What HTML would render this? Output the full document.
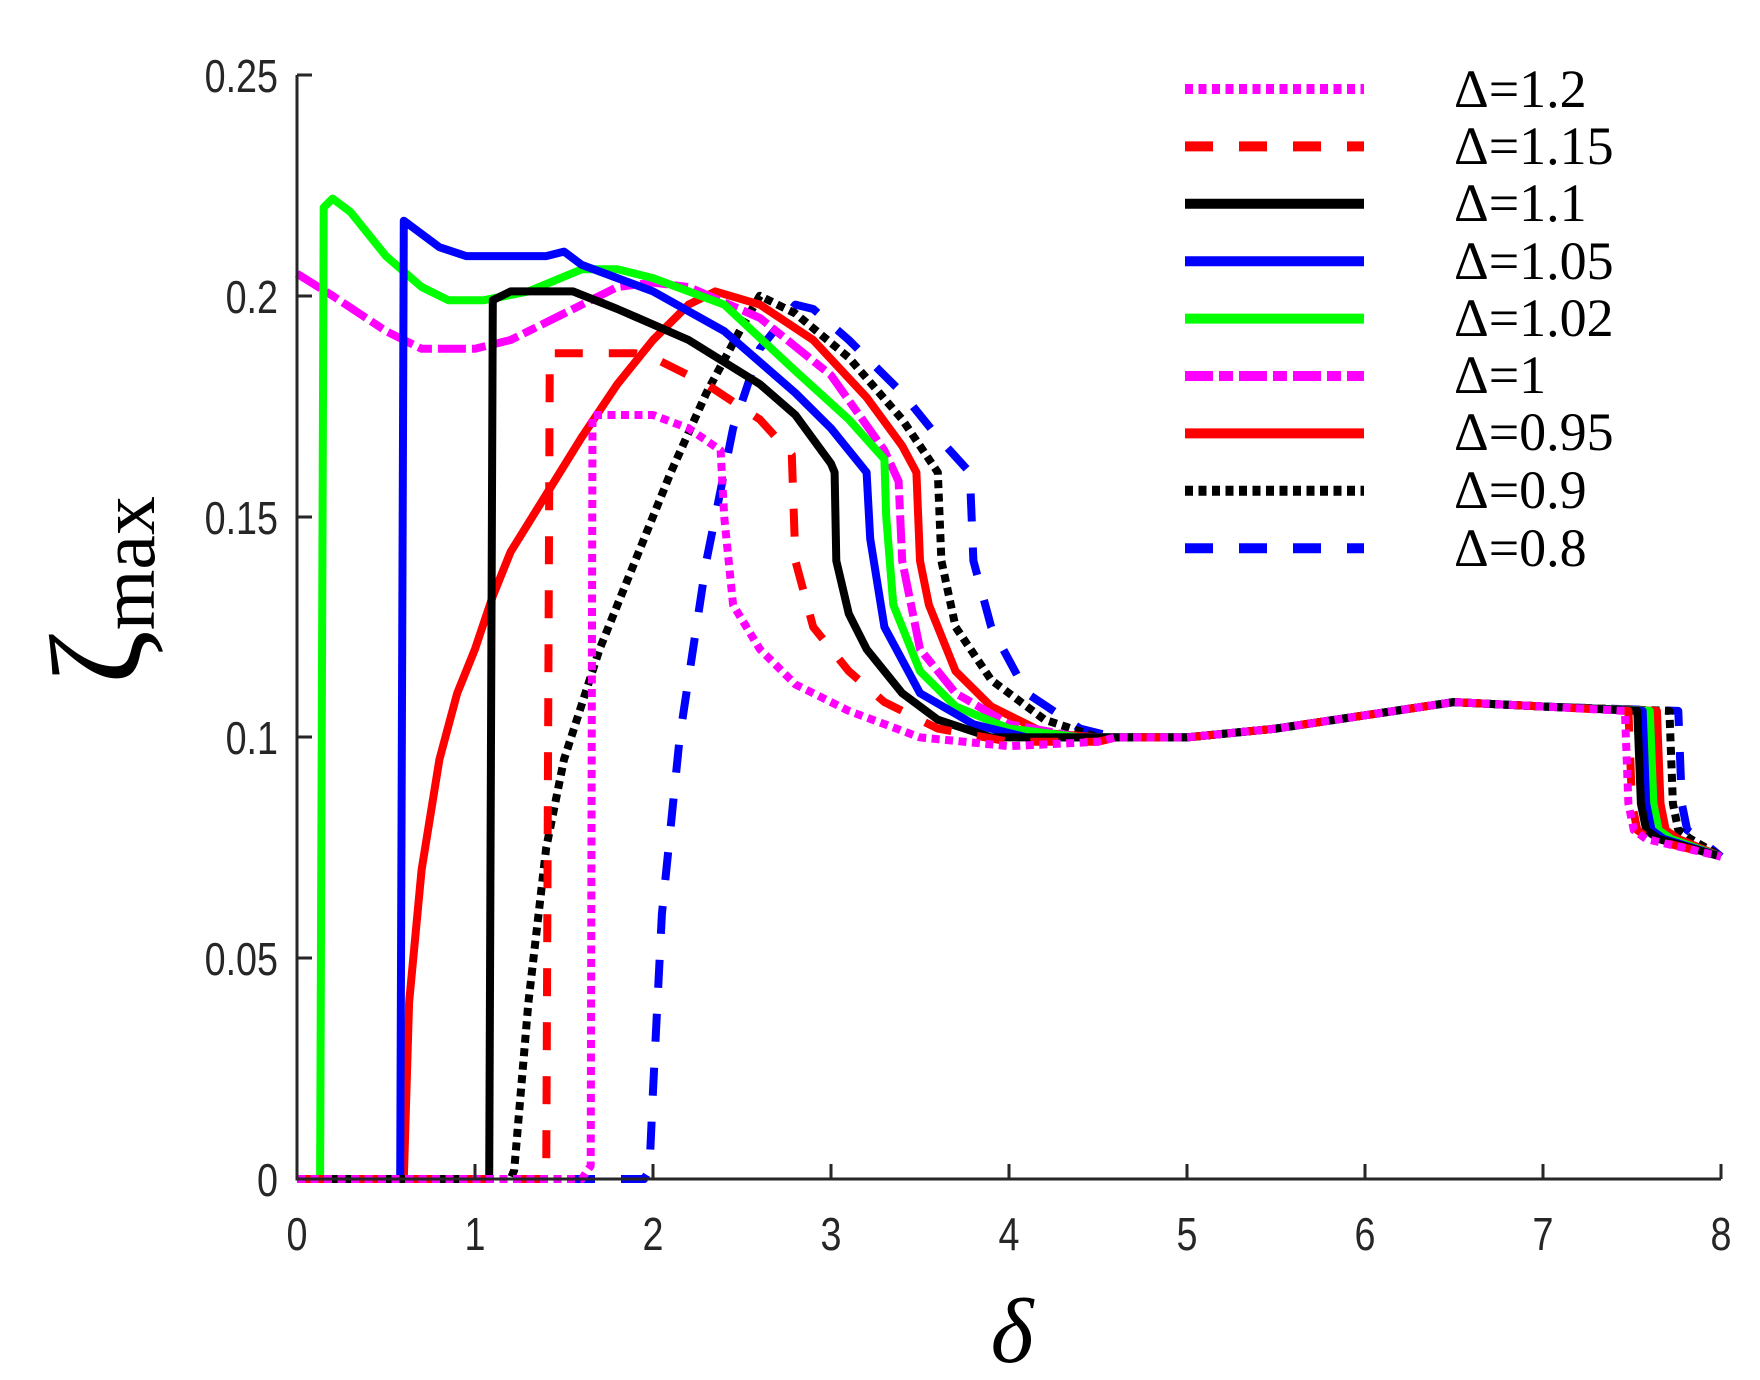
<!DOCTYPE html>
<html><head><meta charset="utf-8">
<style>
html,body{margin:0;padding:0;background:#fff;}
svg{display:block;}
.tk{font-family:"Liberation Sans",sans-serif;font-size:46px;fill:#262626;}
.lg{font-family:"Liberation Serif",serif;font-size:54px;fill:#000;}
</style></head>
<body>
<svg id="s" width="1760" height="1380" viewBox="0 0 1760 1380" xmlns="http://www.w3.org/2000/svg">
<g id="curves" fill="none" stroke-linejoin="round"></g>
<g stroke="#262626" stroke-width="3" fill="none">
<path d="M297,75 V1179 H1721"/>
<path d="M297,75 h15 M297,296 h15 M297,517 h15 M297,737 h15 M297,958 h15"/>
<path d="M475,1179 v-15 M653,1179 v-15 M831,1179 v-15 M1009,1179 v-15 M1187,1179 v-15 M1365,1179 v-15 M1543,1179 v-15 M1721,1179 v-15"/>
</g>
<g class="tk" text-anchor="end">
<text transform="translate(278,92) scale(0.82,1)">0.25</text>
<text transform="translate(278,313) scale(0.82,1)">0.2</text>
<text transform="translate(278,534) scale(0.82,1)">0.15</text>
<text transform="translate(278,754) scale(0.82,1)">0.1</text>
<text transform="translate(278,975) scale(0.82,1)">0.05</text>
<text transform="translate(278,1196) scale(0.82,1)">0</text>
</g>
<g class="tk" text-anchor="middle">
<text transform="translate(297,1250) scale(0.82,1)">0</text>
<text transform="translate(475,1250) scale(0.82,1)">1</text>
<text transform="translate(653,1250) scale(0.82,1)">2</text>
<text transform="translate(831,1250) scale(0.82,1)">3</text>
<text transform="translate(1009,1250) scale(0.82,1)">4</text>
<text transform="translate(1187,1250) scale(0.82,1)">5</text>
<text transform="translate(1365,1250) scale(0.82,1)">6</text>
<text transform="translate(1543,1250) scale(0.82,1)">7</text>
<text transform="translate(1721,1250) scale(0.82,1)">8</text>
</g>
<text x="1012" y="1362" text-anchor="middle" font-family="Liberation Serif,serif" font-style="italic" font-size="92">δ</text>
<g transform="translate(140,590) rotate(-90)">
<text x="0" y="0" text-anchor="middle" font-family="Liberation Serif,serif" font-size="78"><tspan font-size="130">ζ</tspan><tspan dy="14">max</tspan></text>
</g>
<g id="legend" fill="none"></g>
<g class="lg">
<text x="1454" y="107">Δ=1.2</text>
<text x="1454" y="164">Δ=1.15</text>
<text x="1454" y="221">Δ=1.1</text>
<text x="1454" y="279">Δ=1.05</text>
<text x="1454" y="336">Δ=1.02</text>
<text x="1454" y="393">Δ=1</text>
<text x="1454" y="450">Δ=0.95</text>
<text x="1454" y="508">Δ=0.9</text>
<text x="1454" y="566">Δ=0.8</text>
</g>
</svg>
<script>
var X=function(d){return 297+178*d;}, Y=function(z){return 1179-4416*z;};
function tail(dx){return [[4.6,0.1],[5,0.1],[5.5,0.102],[6,0.105],[6.5,0.108],[7,0.107],[dx-0.02,0.106],[dx,0.085],[dx+0.03,0.079],[dx+0.1,0.077],[8,0.073]];}
var DOT="8 5.5", DASH="28 26", DD="28 6 14 6";
var S=[
 {c:"#0000ff",d:DASH,p:[[0,0],[1.95,0],[1.98,0.002],[2.0,0.02],[2.05,0.06],[2.15,0.1],[2.3,0.14],[2.45,0.17],[2.6,0.188],[2.8,0.198],[2.9,0.197],[3.1,0.19],[3.4,0.178],[3.6,0.168],[3.78,0.16],[3.8,0.14],[3.9,0.125],[4.1,0.11],[4.4,0.102]].concat(tail(7.78))},
 {c:"#000000",d:DOT,p:[[0,0],[1.2,0],[1.22,0.002],[1.3,0.04],[1.4,0.075],[1.5,0.095],[1.7,0.12],[1.9,0.14],[2.1,0.16],[2.3,0.178],[2.5,0.193],[2.6,0.2],[2.8,0.196],[3.1,0.186],[3.4,0.172],[3.6,0.16],[3.62,0.14],[3.7,0.125],[3.9,0.113],[4.2,0.104],[4.5,0.1]].concat(tail(7.73))},
 {c:"#ff0000",d:null,p:[[0,0],[0.6,0],[0.63,0.04],[0.7,0.07],[0.8,0.095],[0.9,0.11],[1.0,0.12],[1.1,0.132],[1.2,0.142],[1.4,0.155],[1.6,0.168],[1.8,0.18],[2.0,0.19],[2.2,0.198],[2.35,0.201],[2.6,0.198],[2.9,0.19],[3.2,0.177],[3.4,0.166],[3.48,0.16],[3.5,0.14],[3.55,0.13],[3.7,0.115],[3.9,0.107],[4.2,0.101],[4.5,0.1]].concat(tail(7.66))},
 {c:"#ff00ff",d:DD,p:[[0,0.205],[0.2,0.2],[0.5,0.192],[0.7,0.188],[1.0,0.188],[1.2,0.19],[1.5,0.196],[1.8,0.202],[2.0,0.203],[2.2,0.202],[2.6,0.195],[3.0,0.182],[3.3,0.165],[3.38,0.158],[3.4,0.14],[3.5,0.12],[3.7,0.11],[4.0,0.103],[4.4,0.1]].concat(tail(7.6))},
 {c:"#00ff00",d:null,p:[[0,0],[0.13,0],[0.15,0.22],[0.2,0.222],[0.3,0.219],[0.5,0.209],[0.7,0.202],[0.85,0.199],[1.05,0.199],[1.3,0.201],[1.6,0.206],[1.8,0.206],[2.0,0.204],[2.4,0.198],[2.8,0.183],[3.1,0.172],[3.3,0.163],[3.31,0.15],[3.35,0.13],[3.5,0.115],[3.7,0.107],[4.0,0.102],[4.4,0.1]].concat(tail(7.62))},
 {c:"#0000ff",d:null,p:[[0,0],[0.58,0],[0.6,0.217],[0.8,0.211],[0.95,0.209],[1.4,0.209],[1.5,0.21],[1.6,0.207],[2.0,0.201],[2.4,0.192],[2.8,0.178],[3.0,0.17],[3.2,0.16],[3.22,0.145],[3.3,0.125],[3.5,0.11],[3.8,0.103],[4.1,0.1]].concat(tail(7.58))},
 {c:"#000000",d:null,p:[[0,0],[1.08,0],[1.1,0.199],[1.2,0.201],[1.55,0.201],[1.8,0.197],[2.2,0.19],[2.6,0.18],[2.8,0.173],[3.0,0.162],[3.02,0.16],[3.03,0.14],[3.1,0.128],[3.2,0.12],[3.4,0.11],[3.6,0.104],[3.9,0.1],[4.2,0.1]].concat(tail(7.55))},
 {c:"#ff0000",d:DASH,p:[[0,0],[1.4,0],[1.42,0.187],[1.9,0.187],[2.0,0.186],[2.3,0.18],[2.6,0.172],[2.78,0.164],[2.8,0.14],[2.9,0.125],[3.1,0.115],[3.3,0.108],[3.6,0.102],[4.0,0.099],[4.5,0.099]].concat(tail(7.5))},
 {c:"#ff00ff",d:DOT,p:[[0,0],[1.6,0],[1.65,0.003],[1.66,0.173],[2.0,0.173],[2.2,0.17],[2.38,0.165],[2.4,0.15],[2.45,0.13],[2.6,0.12],[2.8,0.112],[3.1,0.106],[3.5,0.1],[4.0,0.098],[4.5,0.099]].concat(tail(7.48))}
];
var NS="http://www.w3.org/2000/svg", g=document.getElementById("curves");
S.forEach(function(s){
 var e=document.createElementNS(NS,"path");
 e.setAttribute("d","M"+s.p.map(function(q){return X(q[0]).toFixed(1)+","+Y(q[1]).toFixed(1);}).join(" L"));
 e.setAttribute("stroke",s.c);e.setAttribute("stroke-width","8");
 if(s.d)e.setAttribute("stroke-dasharray",s.d);
 g.appendChild(e);
});
var L=[["#ff00ff",DOT],["#ff0000",DASH],["#000000",null],["#0000ff",null],["#00ff00",null],["#ff00ff",DD],["#ff0000",null],["#000000",DOT],["#0000ff",DASH]];
var lg=document.getElementById("legend");
L.forEach(function(l,i){
 var y=89+57.4*i;
 var e=document.createElementNS(NS,"path");
 e.setAttribute("d","M1185,"+y+" H1364");
 e.setAttribute("stroke",l[0]);e.setAttribute("stroke-width","10");
 if(l[1])e.setAttribute("stroke-dasharray",l[1]);
 lg.appendChild(e);
});
</script>
</body></html>
